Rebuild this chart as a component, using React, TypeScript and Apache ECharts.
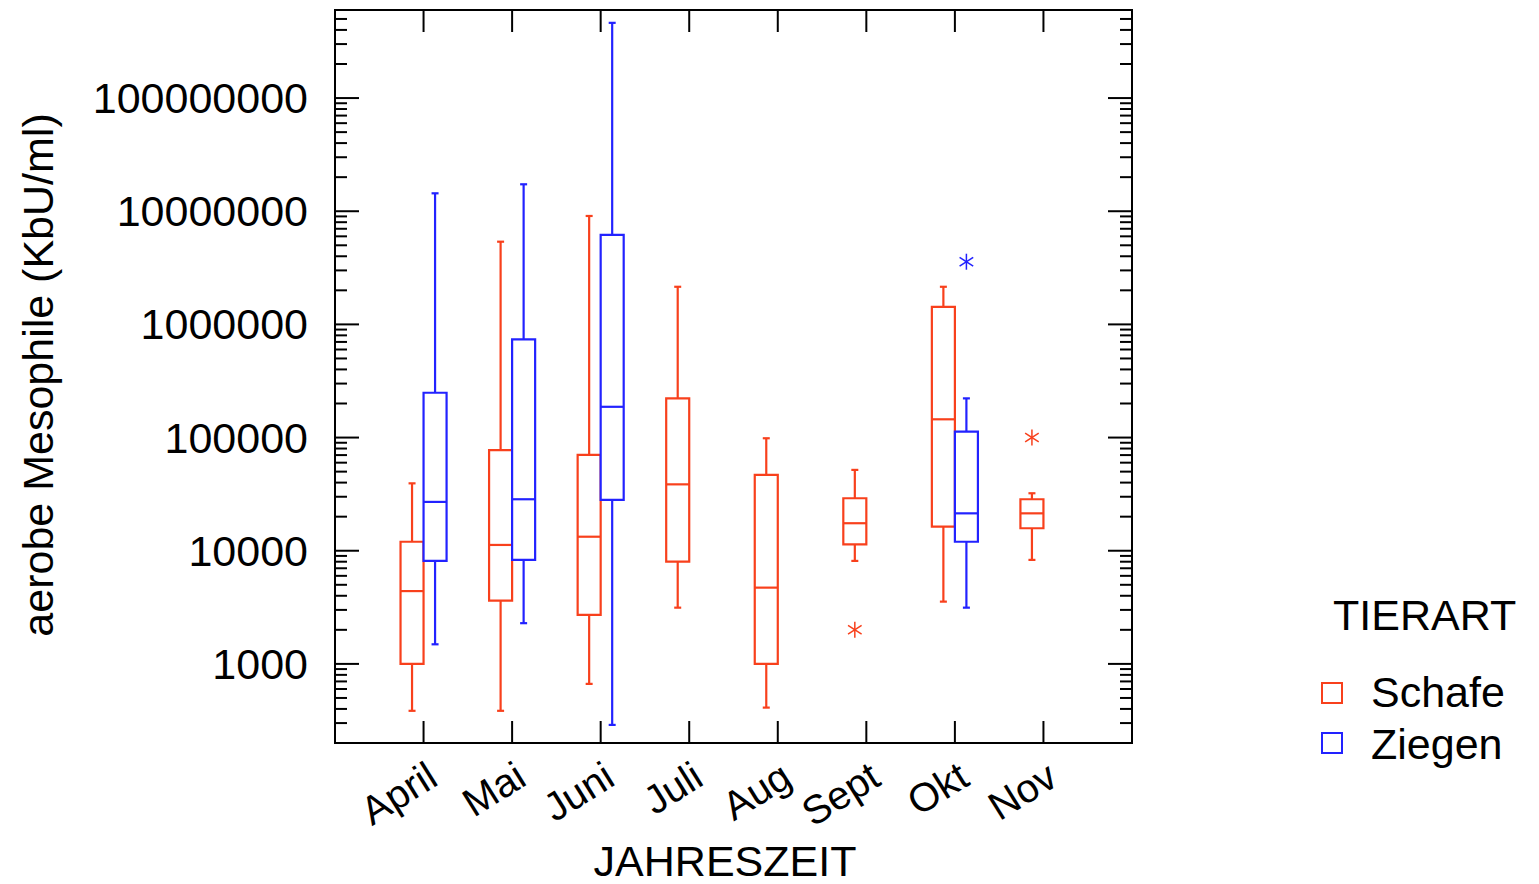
import React, { useEffect, useRef } from 'react';
import * as echarts from 'echarts';

// ---- data ----
const months = ['April', 'Mai', 'Juni', 'Juli', 'Aug', 'Sept', 'Okt', 'Nov'];

// Schafe: whisker low, Q1, median, Q3, whisker high
const schafeLow = [385, 385, 666, 3140, 411, 8130, 3550, 8300];
const schafeQ1 = [1000, 3620, 2710, 8020, 1000, 11400, 16300, 15800];
const schafeMedian = [4400, 11250, 13300, 38600, 4720, 17500, 145000, 21400];
const schafeQ3 = [12000, 77600, 70200, 222000, 46800, 29100, 1430000, 28500];
const schafeHigh = [39400, 5380000, 9080000, 2150000, 98600, 51800, 2150000, 32200];

// Ziegen (null = no data for that month)
const ziegenLow = [1490, 2290, 289, null, null, null, 3140, null];
const ziegenQ1 = [8130, 8300, 28100, null, null, null, 12000, null];
const ziegenMedian = [27000, 28500, 187000, null, null, null, 21400, null];
const ziegenQ3 = [249000, 738000, 6170000, null, null, null, 113000, null];
const ziegenHigh = [14400000, 17300000, 462000000, null, null, null, 222000, null];

// outliers
const schafeOutlierMonths = ['Sept', 'Nov'];
const schafeOutlierValues = [2000, 100000];
const ziegenOutlierMonths = ['Okt'];
const ziegenOutlierValues = [3580000];

// axis
const yMin = 200;
const yMax = 600000000;
const yTickValues = [1000, 10000, 100000, 1000000, 10000000, 100000000];
const yTickLabels = ['1000', '10000', '100000', '1000000', '10000000', '100000000'];

const RED = '#f8401c';
const BLUE = '#2222ff';
const FONT = '"Liberation Sans", Arial, Helvetica, sans-serif';

function buildRows(low: any[], q1: any[], med: any[], q3: any[], high: any[]) {
  const rows: number[][] = [];
  months.forEach((m, i) => {
    if (med[i] == null) return;
    rows.push([i + 1, low[i], q1[i], med[i], q3[i], high[i]]);
  });
  return rows;
}

function boxRenderer(side: number, color: string) {
  return (params: any, api: any) => {
    const x = api.value(0);
    const pMed = api.coord([x, api.value(3)]);
    const unit = api.coord([x + 1, api.value(3)])[0] - pMed[0];
    const w = unit * 0.26;
    const pLow = api.coord([x, api.value(1)]);
    const pQ1 = api.coord([x, api.value(2)]);
    const pQ3 = api.coord([x, api.value(4)]);
    const pHigh = api.coord([x, api.value(5)]);
    const xc = pMed[0] + (side * w) / 2;
    const cap = 3.5;
    const ls = { stroke: color, lineWidth: 2.2 };
    return {
      type: 'group',
      children: [
        { type: 'line', shape: { x1: xc, y1: pQ3[1], x2: xc, y2: pHigh[1] }, style: ls },
        { type: 'line', shape: { x1: xc, y1: pQ1[1], x2: xc, y2: pLow[1] }, style: ls },
        { type: 'line', shape: { x1: xc - cap, y1: pHigh[1], x2: xc + cap, y2: pHigh[1] }, style: ls },
        { type: 'line', shape: { x1: xc - cap, y1: pLow[1], x2: xc + cap, y2: pLow[1] }, style: ls },
        {
          type: 'rect',
          shape: { x: xc - w / 2, y: pQ3[1], width: w, height: pQ1[1] - pQ3[1] },
          style: { stroke: color, lineWidth: 2.2, fill: '#ffffff' },
        },
        { type: 'line', shape: { x1: xc - w / 2, y1: pMed[1], x2: xc + w / 2, y2: pMed[1] }, style: ls },
      ],
    };
  };
}

function outlierRenderer(side: number, color: string) {
  return (params: any, api: any) => {
    const x = api.value(0);
    const p = api.coord([x, api.value(1)]);
    const unit = api.coord([x + 1, api.value(1)])[0] - p[0];
    const w = unit * 0.26;
    const cx = p[0] + (side * w) / 2;
    const cy = p[1];
    const r = 8;
    const dx = r * 0.85;
    const dy = r * 0.55;
    const ls = { stroke: color, lineWidth: 1.5 };
    return {
      type: 'group',
      children: [
        { type: 'line', shape: { x1: cx, y1: cy - r, x2: cx, y2: cy + r }, style: ls },
        { type: 'line', shape: { x1: cx - dx, y1: cy - dy, x2: cx + dx, y2: cy + dy }, style: ls },
        { type: 'line', shape: { x1: cx - dx, y1: cy + dy, x2: cx + dx, y2: cy - dy }, style: ls },
      ],
    };
  };
}

function buildMinorTicks() {
  const out: number[] = [];
  for (let d = 100; d <= 1e9; d *= 10) {
    for (let k = 2; k <= 9; k++) {
      const v = d * k;
      if (v > yMin && v < yMax) out.push(v);
    }
  }
  return out;
}

export default function App() {
  const ref = useRef<HTMLDivElement>(null);

  useEffect(() => {
    document.body.style.margin = '0';
    if (!ref.current) return;
    const chart = echarts.init(ref.current, null, { renderer: 'svg' });

    const schafeRows = buildRows(schafeLow, schafeQ1, schafeMedian, schafeQ3, schafeHigh);
    const ziegenRows = buildRows(ziegenLow, ziegenQ1, ziegenMedian, ziegenQ3, ziegenHigh);
    const schafeOut = schafeOutlierMonths.map((m, i) => [months.indexOf(m) + 1, schafeOutlierValues[i]]);
    const ziegenOut = ziegenOutlierMonths.map((m, i) => [months.indexOf(m) + 1, ziegenOutlierValues[i]]);
    const minorTicks = buildMinorTicks();

    const option: any = {
      animation: false,
      backgroundColor: '#ffffff',
      grid: {
        left: 335,
        top: 10,
        width: 797,
        height: 733,
        show: true,
        borderColor: '#000',
        borderWidth: 2,
        backgroundColor: 'transparent',
      },
      xAxis: { type: 'value', min: 0, max: 9, show: false },
      yAxis: { type: 'log', logBase: 10, min: yMin, max: yMax, show: false },
      series: [
        // y major ticks + labels
        {
          type: 'custom',
          clip: false,
          silent: true,
          data: yTickValues.map((v, i) => [0, v, i]),
          renderItem: (params: any, api: any) => {
            const cs = params.coordSys;
            const p = api.coord([0, api.value(1)]);
            const idx = api.value(2);
            const y = p[1];
            return {
              type: 'group',
              children: [
                { type: 'line', shape: { x1: cs.x, y1: y, x2: cs.x + 24, y2: y }, style: { stroke: '#000', lineWidth: 2 } },
                { type: 'line', shape: { x1: cs.x + cs.width - 24, y1: y, x2: cs.x + cs.width, y2: y }, style: { stroke: '#000', lineWidth: 2 } },
                {
                  type: 'text',
                  x: 308,
                  y: y,
                  style: {
                    text: yTickLabels[idx],
                    fontSize: 43,
                    fontFamily: FONT,
                    fill: '#000',
                    align: 'right',
                    verticalAlign: 'middle',
                  },
                },
              ],
            };
          },
        },
        // y minor ticks
        {
          type: 'custom',
          clip: false,
          silent: true,
          data: minorTicks.map((v) => [0, v]),
          renderItem: (params: any, api: any) => {
            const cs = params.coordSys;
            const y = api.coord([0, api.value(1)])[1];
            return {
              type: 'group',
              children: [
                { type: 'line', shape: { x1: cs.x, y1: y, x2: cs.x + 12, y2: y }, style: { stroke: '#000', lineWidth: 2 } },
                { type: 'line', shape: { x1: cs.x + cs.width - 12, y1: y, x2: cs.x + cs.width, y2: y }, style: { stroke: '#000', lineWidth: 2 } },
              ],
            };
          },
        },
        // x ticks + labels
        {
          type: 'custom',
          clip: false,
          silent: true,
          data: months.map((m, i) => [i + 1, yMin, i]),
          renderItem: (params: any, api: any) => {
            const cs = params.coordSys;
            const p = api.coord([api.value(0), yMin]);
            const x = p[0];
            const bottom = cs.y + cs.height;
            return {
              type: 'group',
              children: [
                { type: 'line', shape: { x1: x, y1: bottom, x2: x, y2: bottom - 22 }, style: { stroke: '#000', lineWidth: 2 } },
                { type: 'line', shape: { x1: x, y1: cs.y, x2: x, y2: cs.y + 22 }, style: { stroke: '#000', lineWidth: 2 } },
                {
                  type: 'text',
                  x: x + 9,
                  y: bottom + 29,
                  rotation: (32 * Math.PI) / 180,
                  style: {
                    text: months[api.value(2)],
                    fontSize: 40,
                    fontFamily: FONT,
                    fill: '#000',
                    align: 'right',
                    verticalAlign: 'middle',
                  },
                },
              ],
            };
          },
        },
        {
          name: 'Schafe',
          type: 'custom',
          data: schafeRows,
          renderItem: boxRenderer(-1, RED),
          clip: false,
        },
        {
          name: 'Ziegen',
          type: 'custom',
          data: ziegenRows,
          renderItem: boxRenderer(1, BLUE),
          clip: false,
        },
        {
          name: 'Schafe Ausreißer',
          type: 'custom',
          data: schafeOut,
          renderItem: outlierRenderer(-1, RED),
          clip: false,
        },
        {
          name: 'Ziegen Ausreißer',
          type: 'custom',
          data: ziegenOut,
          renderItem: outlierRenderer(1, BLUE),
          clip: false,
        },
      ],
      graphic: [
        {
          type: 'text',
          x: 38,
          y: 375,
          rotation: Math.PI / 2,
          style: {
            text: 'aerobe Mesophile (KbU/ml)',
            fontSize: 43,
            fontFamily: FONT,
            fill: '#000',
            align: 'center',
            verticalAlign: 'middle',
          },
        },
        {
          type: 'text',
          x: 725,
          y: 861,
          style: {
            text: 'JAHRESZEIT',
            fontSize: 43,
            lineHeight: 38,
            fontFamily: FONT,
            fill: '#000',
            align: 'center',
            verticalAlign: 'middle',
          },
        },
        {
          type: 'text',
          x: 1333,
          y: 615,
          style: {
            text: 'TIERART',
            fontSize: 43,
            fontFamily: FONT,
            fill: '#000',
            align: 'left',
            verticalAlign: 'middle',
          },
        },
        {
          type: 'rect',
          shape: { x: 1322, y: 683, width: 20, height: 20 },
          style: { stroke: RED, lineWidth: 2, fill: 'transparent' },
        },
        {
          type: 'text',
          x: 1371,
          y: 692,
          style: { text: 'Schafe', fontSize: 43, fontFamily: FONT, fill: '#000', align: 'left', verticalAlign: 'middle' },
        },
        {
          type: 'rect',
          shape: { x: 1322, y: 733, width: 20, height: 20 },
          style: { stroke: BLUE, lineWidth: 2, fill: 'transparent' },
        },
        {
          type: 'text',
          x: 1371,
          y: 744,
          style: { text: 'Ziegen', fontSize: 43, fontFamily: FONT, fill: '#000', align: 'left', verticalAlign: 'middle' },
        },
      ],
    };

    chart.setOption(option);
    return () => chart.dispose();
  }, []);

  return <div ref={ref} style={{ width: 1539, height: 884 }} />;
}
